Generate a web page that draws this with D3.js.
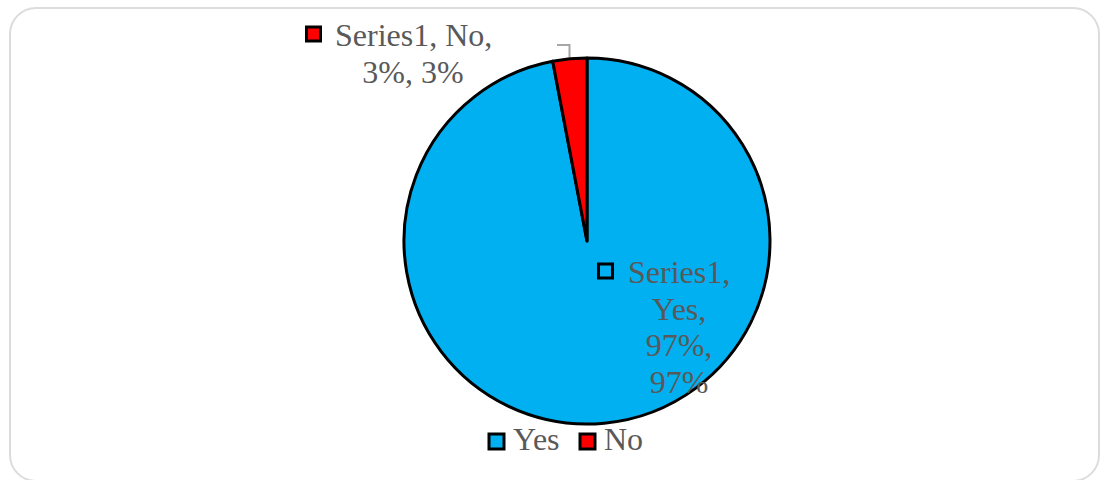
<!DOCTYPE html>
<html>
<head>
<meta charset="utf-8">
<script src="https://cdn.jsdelivr.net/npm/d3@7"></script>
<style>
  body { margin: 0; background: #fff; }
  text { font-family: "Liberation Serif", "Times New Roman", serif; fill: #595959; }
</style>
</head>
<body>
<div id="chart"></div>
<script>
// data
var categories = ["Yes", "No"];
var values = [97, 3];
var seriesName = "Series1";
var colors = ["#00B0F0", "#FF0000"];

var width = 1102, height = 480;
var svg = d3.select("#chart").append("svg")
    .attr("width", width).attr("height", height);

// card border
svg.append("rect")
    .attr("x", 10).attr("y", 8)
    .attr("width", 1089).attr("height", 473)
    .attr("rx", 26).attr("ry", 26)
    .attr("fill", "#fff").attr("stroke", "#dcdcdc").attr("stroke-width", 2);

var cx = 587, cy = 241, r = 183;
var color = d3.scaleOrdinal().domain(categories).range(colors);

var pie = d3.pie().sort(null).value(function(d){ return d.value; });
var data = pie(categories.map(function(c, i){ return {name: c, value: values[i]}; }));
var arc = d3.arc().innerRadius(0).outerRadius(r);

var g = svg.append("g").attr("transform", "translate(" + cx + "," + cy + ")");
g.selectAll("path").data(data).enter().append("path")
    .attr("d", arc)
    .attr("fill", function(d){ return color(d.data.name); })
    .attr("stroke", "#000").attr("stroke-width", 3)
    .attr("stroke-linejoin", "round");

var total = d3.sum(values);
function pct(v){ return Math.round(v / total * 100) + "%"; }

// data labels
var fs = 32;
function label(x, y, lines, anchorX, markerFill) {
    var lg = svg.append("g");
    lines.forEach(function(t, i){
        lg.append("text")
            .attr("x", i === 0 ? anchorX.first : anchorX.rest)
            .attr("y", y + i * 36.7)
            .attr("text-anchor", i === 0 ? "start" : "middle")
            .style("font-size", fs + "px")
            .text(t);
    });
    lg.append("rect")
        .attr("x", x).attr("y", y - 19)
        .attr("width", 14).attr("height", 14)
        .attr("fill", markerFill).attr("stroke", "#000").attr("stroke-width", 3);
}

// "No" label, outside the slice at the top
label(306.5, 46,
    [seriesName + ", " + categories[1] + ",", pct(values[1]) + ", " + values[1] + "%"],
    {first: 335, rest: 413}, color(categories[1]));

// leader line for "No"
svg.append("path")
    .attr("d", "M557,45H569.5V57")
    .attr("fill", "none").attr("stroke", "#a6a6a6").attr("stroke-width", 2);

// "Yes" label, inside the slice
label(598.5, 283,
    [seriesName + ",", categories[0] + ",", pct(values[0]) + ",", values[0] + "%"],
    {first: 628, rest: 679}, "none");

// legend
var legend = svg.append("g").attr("transform", "translate(488,433)");
var lx = [0, 91];
categories.forEach(function(c, i){
    var item = legend.append("g").attr("transform", "translate(" + lx[i] + ",0)");
    item.append("rect").attr("x", 1).attr("y", 1)
        .attr("width", 15).attr("height", 15)
        .attr("fill", color(c)).attr("stroke", "#000").attr("stroke-width", 3);
    item.append("text").attr("x", 25).attr("y", 17)
        .style("font-size", fs + "px").text(c);
});
</script>
</body>
</html>
